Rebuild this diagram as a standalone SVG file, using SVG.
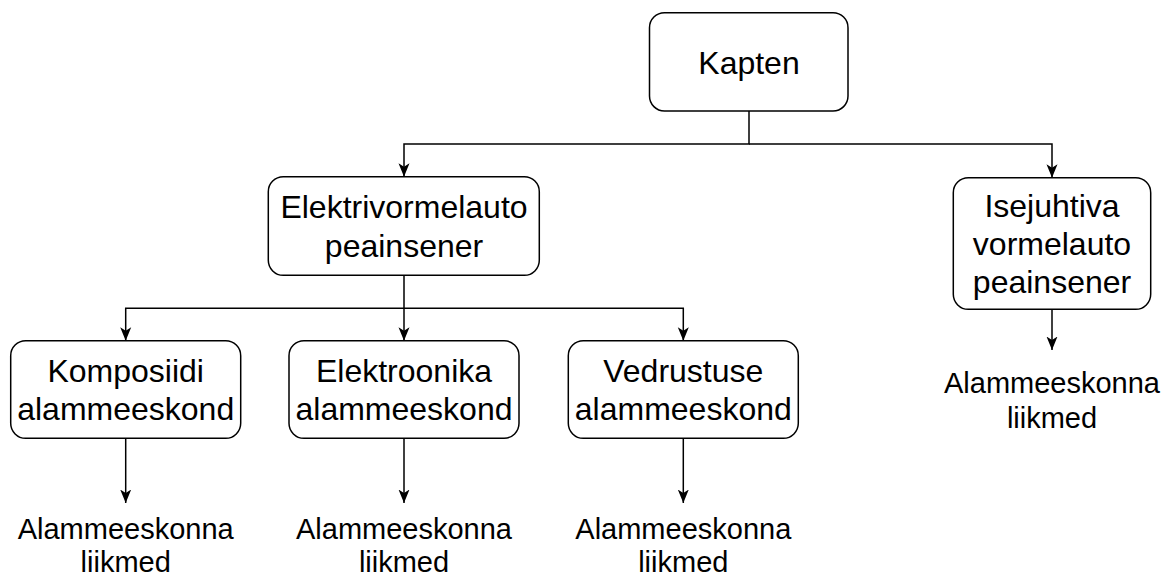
<svg xmlns="http://www.w3.org/2000/svg" width="1164" height="573" viewBox="0 0 1164 573">
<style>
.box{fill:#fff;stroke:#000;stroke-width:1.5}
.t{font-family:"Liberation Sans",Arial,sans-serif;font-size:32px;fill:#000;text-anchor:middle}
.l{font-family:"Liberation Sans",Arial,sans-serif;font-size:29px;fill:#000;text-anchor:middle}
.c{fill:none;stroke:#000;stroke-width:1.5;marker-end:url(#arr)}
</style>
<defs>
<marker id="arr" markerUnits="userSpaceOnUse" viewBox="0 0 14 12" markerWidth="14" markerHeight="12" refX="13.5" refY="6" orient="auto">
<path d="M13.5,6 L0,0.5 L3.5,6 L0,11.5 Z" fill="#000"/>
</marker>
</defs>
<rect width="1164" height="573" fill="#fff"/>
<g id="connectors">
<path class="c" d="M749,111 V144 H404 V176.7"/>
<path class="c" d="M749,144 H1052 V177.7"/>
<path class="c" d="M404,275.3 V308.3 H125.7 V340.7"/>
<path class="c" d="M404,308.3 V340.7"/>
<path class="c" d="M404,308.3 H683.3 V340.7"/>
<path class="c" d="M125.7,438.3 V503"/>
<path class="c" d="M404,438.3 V503"/>
<path class="c" d="M683.3,438.3 V503"/>
<path class="c" d="M1052,309.3 V350"/>
</g>
<g id="kapten">
<rect class="box" x="649.5" y="12.7" width="198.5" height="98.3" rx="15"/>
<text class="t" x="749" y="74">Kapten</text>
</g>
<g id="elektri">
<rect class="box" x="268.3" y="176.7" width="271" height="98.6" rx="15"/>
<text class="t" x="404" y="218.3">Elektrivormelauto</text>
<text class="t" x="404" y="256.7">peainsener</text>
</g>
<g id="isejuhtiva">
<rect class="box" x="953.3" y="177.7" width="197.4" height="131.6" rx="15"/>
<text class="t" x="1052" y="216.6">Isejuhtiva</text>
<text class="t" x="1052" y="255">vormelauto</text>
<text class="t" x="1052" y="293.4">peainsener</text>
</g>
<g id="komposiidi">
<rect class="box" x="10.7" y="340.7" width="230" height="97.6" rx="15"/>
<text class="t" x="125.7" y="381.8">Komposiidi</text>
<text class="t" x="125.7" y="420.2">alammeeskond</text>
</g>
<g id="elektroonika">
<rect class="box" x="289" y="340.7" width="230" height="97.6" rx="15"/>
<text class="t" x="404" y="381.8">Elektroonika</text>
<text class="t" x="404" y="420.2">alammeeskond</text>
</g>
<g id="vedrustuse">
<rect class="box" x="568.3" y="340.7" width="230" height="97.6" rx="15"/>
<text class="t" x="683.3" y="381.8">Vedrustuse</text>
<text class="t" x="683.3" y="420.2">alammeeskond</text>
</g>
<g id="liikmed1">
<text class="l" x="125.7" y="538.5">Alammeeskonna</text>
<text class="l" x="125.7" y="572">liikmed</text>
</g>
<g id="liikmed2">
<text class="l" x="404" y="538.5">Alammeeskonna</text>
<text class="l" x="404" y="572">liikmed</text>
</g>
<g id="liikmed3">
<text class="l" x="683.3" y="538.5">Alammeeskonna</text>
<text class="l" x="683.3" y="572">liikmed</text>
</g>
<g id="liikmed4">
<text class="l" x="1052" y="393.3">Alammeeskonna</text>
<text class="l" x="1052" y="428">liikmed</text>
</g>
</svg>
